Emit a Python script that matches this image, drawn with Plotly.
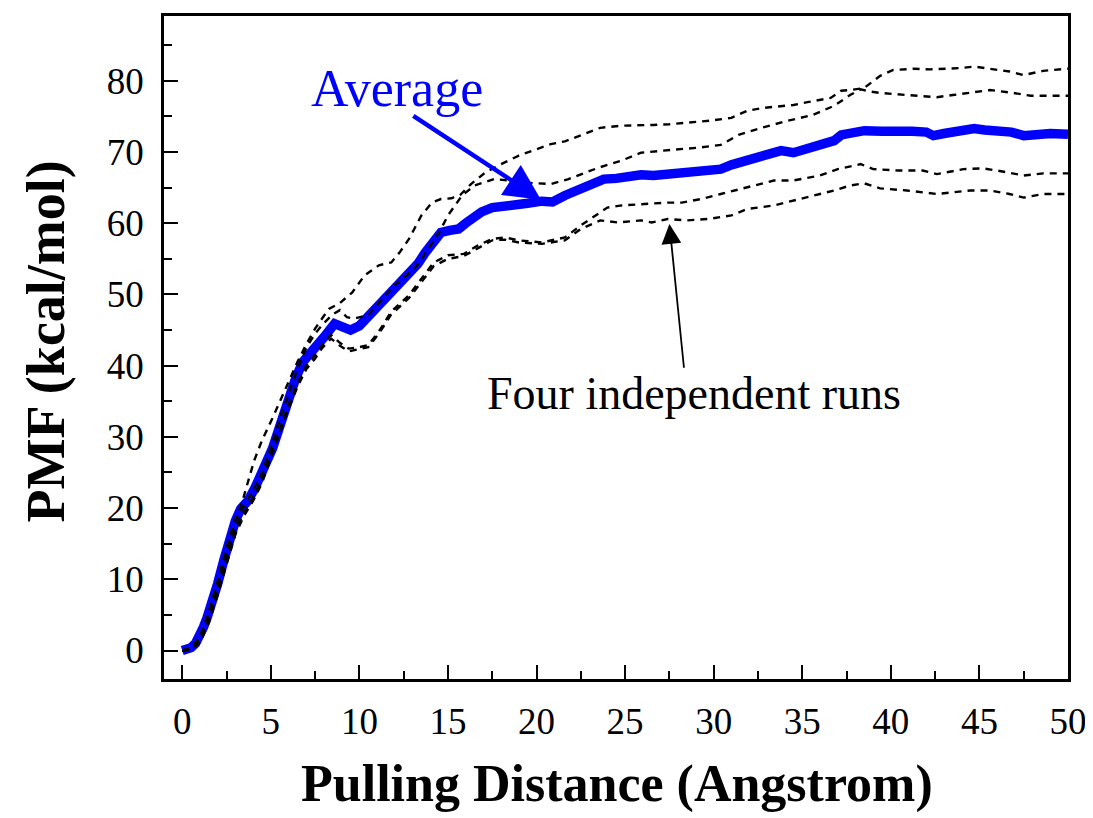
import plotly.graph_objects as go

# ---- data (x = pulling distance in Angstrom, y = PMF kcal/mol) ----
average = [(0, 0), (0.25, 0.05), (0.5, 0.4), (0.75, 1.0), (1.0, 2.0), (1.2, 3.3), (1.4, 4.6), (1.6, 6.0),
           (1.8, 7.7), (2.0, 9.4), (2.35, 12.7), (2.7, 15.9), (3.0, 18.2), (3.3, 19.9), (3.7, 21.0),
           (4.1, 22.8), (4.6, 25.5), (5.1, 28.4), (5.6, 32.2), (6.0, 35.4), (6.4, 38.2), (6.8, 40.5),
           (7.2, 41.8), (7.5, 42.9), (8.0, 44.0), (8.6, 45.9), (9.0, 45.5), (9.5, 45.0), (10.0, 45.6),
           (10.5, 46.9), (11.0, 48.2), (11.3, 49.0), (11.8, 50.5), (12.4, 51.7), (12.9, 53.0), (13.3, 54.3),
           (13.7, 55.8), (14.1, 57.3), (14.6, 58.7), (15.1, 59.0), (15.6, 59.2), (16.0, 60.0), (16.5, 61.0),
           (16.9, 61.6), (17.5, 62.2), (18.0, 62.3), (18.4, 62.7), (19.0, 62.6), (19.5, 62.8), (20.3, 63.1),
           (20.9, 63.0), (21.6, 63.9), (22.2, 64.5), (22.7, 65.0), (23.3, 65.8), (23.8, 66.2), (24.5, 66.3),
           (25.2, 66.6), (25.9, 66.8), (26.6, 66.7), (27.3, 66.9), (28.0, 67.1), (28.5, 67.1), (29.2, 67.4),
           (30.0, 67.6), (30.4, 67.6), (31.0, 68.2), (31.4, 68.5), (32.0, 69.0), (32.7, 69.5), (33.3, 69.8),
           (33.8, 70.2), (34.5, 69.9), (35.2, 70.5), (36.0, 71.0), (36.5, 71.3), (36.8, 71.6), (37.2, 72.4),
           (37.7, 72.7), (38.5, 73.0), (39.5, 72.9), (40.4, 73.0), (41.2, 72.9), (42.0, 72.8), (42.4, 72.3),
           (43.0, 72.6), (43.8, 73.0), (44.7, 73.3), (45.3, 73.1), (46.0, 73.1), (46.8, 72.8), (47.5, 72.3),
           (48.2, 72.5), (49.0, 72.6), (50.0, 72.5)]

run_a = [(0, 0), (0.5, 0.4), (1, 2.0), (1.5, 5.5), (2, 9.8), (2.5, 14.5), (3, 18.5), (3.4, 21), (4.05, 26.6),
         (4.5, 29.5), (5.07, 32.5), (5.6, 35.5), (6.0, 37.8), (6.5, 40.5), (7.0, 43), (7.5, 45.2), (8.0, 47),
         (8.3, 48), (8.9, 48.8), (9.6, 50.3), (10.3, 52.7), (11.1, 54.1), (11.8, 54.5), (12.3, 56),
         (12.8, 57.8), (13.5, 61.1), (14.1, 62.9), (14.6, 63.4), (15.2, 63.5), (15.7, 64.0), (16.3, 65.5),
         (17.1, 67.1), (18.0, 68.3), (19.0, 69.5), (19.9, 70.3), (20.8, 71.1), (21.6, 71.5), (22.5, 72.4),
         (23.6, 73.4), (24.8, 73.7), (25.9, 73.7), (26.6, 73.8), (27.5, 73.9), (28.5, 74.1), (29.8, 74.4),
         (31.0, 74.8), (31.9, 75.8), (32.8, 76.2), (33.6, 76.4), (34.5, 76.6), (35.3, 77.0), (36.0, 77.3),
         (36.6, 77.6), (37.2, 78.6), (37.7, 78.7), (38.5, 79.0), (39.4, 80.7), (40.1, 81.5), (41.3, 81.7),
         (42.2, 81.6), (43.2, 81.7), (44.0, 81.8), (44.7, 82.0), (45.6, 81.7), (46.7, 81.3), (47.5, 80.8),
         (48.6, 81.4), (50, 81.7)]

run_b = [(0, 0), (0.5, 0.3), (1, 1.8), (1.5, 5.0), (2, 9.0), (2.5, 13.5), (3, 17.5), (3.4, 20), (4, 22.5),
         (4.5, 25), (5, 28.5), (5.5, 32.5), (6.0, 36), (6.5, 39.5), (7.0, 42.5), (7.5, 44.5), (8.0, 46),
         (8.5, 47.2), (8.9, 47.8), (9.3, 46.8), (9.7, 46.6), (10.5, 47.1), (11.3, 49.4), (12.0, 51.3),
         (13.1, 53.6), (13.9, 56.4), (14.5, 58.7), (15.0, 61.1), (15.8, 63.9), (16.5, 65.3), (17.6, 66.2),
         (18.5, 66.0), (19.3, 65.7), (20.8, 65.5), (21.8, 66.2), (22.5, 66.9), (23.5, 67.8), (24.8, 68.8),
         (25.9, 69.9), (27.6, 70.3), (29.1, 70.6), (30.4, 71.0), (31.4, 72.4), (32.7, 73.4), (34.2, 74.4),
         (35.6, 75.2), (36.8, 76.5), (37.7, 78.0), (38.3, 78.8), (38.8, 78.5), (39.4, 78.3), (40.9, 78.0),
         (42.6, 77.7), (43.5, 78.0), (44.5, 78.3), (45.6, 78.7), (46.9, 78.3), (47.9, 77.9), (50, 77.9)]

run_c = [(0, 0), (0.5, 0.2), (1, 1.4), (1.5, 4.3), (2, 8.3), (2.5, 12.8), (3, 16.8), (3.5, 19.5), (4, 21.5),
         (4.5, 24), (5, 27.5), (5.5, 31), (6.0, 34.5), (6.5, 37.5), (7.0, 40), (7.5, 41.5), (7.9, 42.9),
         (8.4, 44.3), (8.9, 43.2), (9.4, 42.4), (10.0, 42.6), (10.5, 42.9), (11.1, 44.8), (11.8, 47.6),
         (12.8, 49.9), (13.5, 52.2), (14.2, 54.5), (15.0, 55.5), (15.9, 55.7), (16.7, 56.9), (17.5, 57.8),
         (18.2, 58.0), (19.0, 57.6), (20.3, 57.3), (21.6, 58.0), (22.5, 59.7), (23.3, 61.1), (24.0, 62.2),
         (24.8, 62.5), (25.9, 62.7), (27.4, 62.9), (28.2, 62.9), (29.3, 63.4), (30.4, 64.1), (31.9, 65.0),
         (33.4, 66.0), (34.5, 66.0), (36.0, 66.7), (37.0, 67.6), (38.3, 68.3), (39.0, 67.6), (40.4, 67.4),
         (41.8, 67.4), (42.6, 66.9), (44.1, 67.6), (45.2, 67.7), (46.0, 67.4), (47.5, 66.7), (48.6, 67.0),
         (50, 67.0)]

run_d = [(0, 0), (0.5, 0.1), (1, 1.1), (1.5, 3.9), (2, 7.8), (2.5, 12.2), (3, 16.3), (3.5, 19), (4, 21),
         (4.5, 23.5), (5, 27), (5.5, 30.5), (6.0, 34), (6.5, 37), (7.0, 39.5), (7.5, 41), (7.9, 42.5),
         (8.4, 43.8), (8.9, 42.8), (9.4, 42.0), (10.0, 42.3), (10.5, 42.6), (11.1, 44.5), (11.8, 47.2),
         (12.8, 49.5), (13.5, 51.8), (14.2, 54.0), (15.0, 55.0), (15.9, 55.4), (16.7, 56.5), (17.5, 57.6),
         (18.2, 57.7), (19.0, 57.3), (20.3, 57.1), (21.6, 57.6), (22.5, 59.2), (23.6, 60.4), (24.6, 60.1),
         (25.9, 60.4), (26.5, 60.1), (27.4, 60.6), (28.5, 60.4), (29.7, 60.6), (31.0, 61.1), (31.9, 62.0),
         (33.4, 62.5), (34.5, 63.2), (35.6, 63.9), (36.8, 64.6), (37.7, 65.3), (38.5, 65.6), (39.4, 64.9),
         (40.9, 64.6), (42.6, 64.1), (44.5, 64.6), (45.6, 64.6), (46.7, 64.1), (47.5, 63.6), (48.6, 64.1),
         (50, 64.1)]

x_ticks = [0, 5, 10, 15, 20, 25, 30, 35, 40, 45, 50]
y_ticks = [0, 10, 20, 30, 40, 50, 60, 70, 80]

x_title = "Pulling Distance (Angstrom)"
y_title = "PMF (kcal/mol)"
avg_label = "Average"
runs_label = "Four independent runs"

FONT = "Liberation Serif, Times New Roman, serif"

fig = go.Figure()

fig.add_trace(go.Scatter(
    x=[p[0] for p in average], y=[p[1] for p in average], mode="lines",
    line=dict(color="#0000ff", width=9.5), showlegend=False))

for run in (run_a, run_b, run_c, run_d):
    fig.add_trace(go.Scatter(
        x=[p[0] for p in run], y=[p[1] for p in run], mode="lines",
        line=dict(color="black", width=2.4, dash="7px,6px"), showlegend=False))

axis_common = dict(
    showgrid=False, zeroline=False, showline=True, linecolor="black", linewidth=2.5,
    mirror=True, ticks="inside", ticklen=14, tickwidth=2, tickcolor="black",
    tickfont=dict(family=FONT, size=37, color="black"),
)

fig.update_xaxes(
    range=[-1.03, 50.0], tickvals=x_ticks, ticktext=[str(v) for v in x_ticks],
    minor=dict(dtick=2.5, tick0=0, ticks="inside", ticklen=8, tickwidth=2, tickcolor="black", showgrid=False),
    ticklabelstandoff=8, **axis_common)
fig.update_yaxes(
    range=[-4.0, 89.1], tickvals=y_ticks, ticktext=[str(v) for v in y_ticks],
    minor=dict(dtick=5, tick0=0, ticks="inside", ticklen=8, tickwidth=2, tickcolor="black", showgrid=False),
    ticklabelstandoff=10, **axis_common)

annotations = [
    dict(text="<b>" + x_title + "</b>", xref="paper", yref="paper", x=0.501, y=-0.158,
         xanchor="center", yanchor="middle",
         showarrow=False, font=dict(family=FONT, size=52, color="black")),
    dict(text="<b>" + y_title + "</b>", xref="paper", yref="paper", x=-0.1305, y=0.509,
         xanchor="center", yanchor="middle",
         textangle=-90, showarrow=False, font=dict(family=FONT, size=54, color="black")),
    dict(text=avg_label, xref="x", yref="y", x=12.1, y=78.9, xanchor="center", yanchor="middle",
         showarrow=False, font=dict(family=FONT, size=52, color="#0000ff")),
    dict(text=runs_label, xref="x", yref="y", x=28.9, y=36.1, xanchor="center", yanchor="middle",
         showarrow=False, font=dict(family=FONT, size=46, color="black")),
    # blue arrow pointing to the average curve
    dict(text="", xref="x", yref="y", x=20.25, y=63.3, axref="x", ayref="y", ax=12.96, ay=75.2,
         showarrow=True, arrowhead=2, arrowsize=1.6, arrowwidth=4.5, arrowcolor="#0000ff",
         standoff=0, startstandoff=0),
    # black arrow pointing to the runs
    dict(text="", xref="x", yref="y", x=27.5, y=59.9, axref="x", ayref="y", ax=28.33, ay=39.5,
         showarrow=True, arrowhead=2, arrowsize=2.2, arrowwidth=1.8, arrowcolor="black",
         standoff=0, startstandoff=0),
]

# the page adds an 8 px body margin, so the figure is sized/offset to compensate
fig.update_layout(
    width=1085, height=810,
    margin=dict(l=156, r=25, t=5, b=139),
    paper_bgcolor="white", plot_bgcolor="white",
    font=dict(family=FONT, color="black"),
    annotations=annotations,
    showlegend=False,
)

fig.write_html("out.html")
